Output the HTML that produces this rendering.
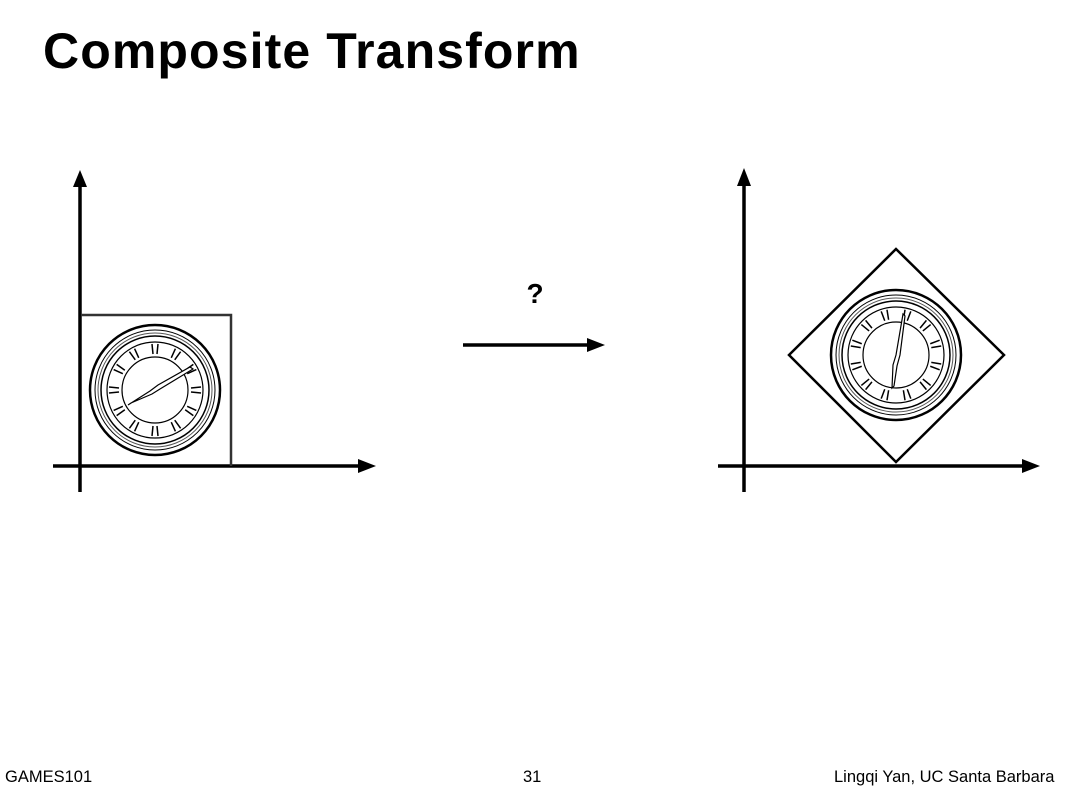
<!DOCTYPE html>
<html><head><meta charset="utf-8"><style>
html,body{margin:0;padding:0;background:#fff;}
body{width:1069px;height:795px;position:relative;overflow:hidden;font-family:"Liberation Sans",sans-serif;}
h1{position:absolute;left:43px;top:22px;margin:0;font-size:50px;font-weight:bold;letter-spacing:1.1px;color:#000;}
.f{position:absolute;top:768px;font-size:16.5px;color:#000;}
</style></head><body>
<h1>Composite Transform</h1>
<svg width="1069" height="795" style="position:absolute;left:0;top:0">
<defs>
<g id="clock">
  <circle r="65" fill="#fff" stroke="#000" stroke-width="2.5"/>
  <circle r="60" fill="none" stroke="#000" stroke-width="1"/>
  <circle r="57" fill="none" stroke="#555" stroke-width="1"/>
  <circle r="54" fill="none" stroke="#000" stroke-width="1.5"/>
  <circle r="48" fill="none" stroke="#000" stroke-width="1.2"/>
  <circle r="33" fill="#fff" stroke="#000" stroke-width="1.2"/>
  <g stroke="#000" stroke-width="1.5">
    <g id="tk"><line x1="-3" y1="-46" x2="-2" y2="-36"/><line x1="3" y1="-46" x2="2" y2="-36"/></g>
    <use href="#tk" transform="rotate(30)"/><use href="#tk" transform="rotate(60)"/><use href="#tk" transform="rotate(90)"/>
    <use href="#tk" transform="rotate(120)"/><use href="#tk" transform="rotate(150)"/><use href="#tk" transform="rotate(180)"/>
    <use href="#tk" transform="rotate(210)"/><use href="#tk" transform="rotate(240)"/><use href="#tk" transform="rotate(270)"/>
    <use href="#tk" transform="rotate(300)"/><use href="#tk" transform="rotate(330)"/>
  </g>
</g>
</defs>
<line x1="80" y1="185" x2="80" y2="492" stroke="#000" stroke-width="3.5"/>
<polygon points="80,170 73,187 87,187" fill="#000"/>
<line x1="53" y1="466" x2="362" y2="466" stroke="#000" stroke-width="3.5"/>
<polygon points="376,466 358,459 358,473" fill="#000"/>
<polyline points="81,315 231,315 231,466" fill="none" stroke="#333" stroke-width="2.5"/>
<use href="#clock" transform="translate(155,390)"/>
<polygon points="128,405 150,391 158,385 190,367 193,369 160,389 152,394 131,403" fill="#fff" stroke="#000" stroke-width="1.2"/>
<text x="535" y="303" font-family="Liberation Sans,sans-serif" font-size="28" font-weight="bold" text-anchor="middle">?</text>
<line x1="463" y1="345" x2="590" y2="345" stroke="#000" stroke-width="3.5"/>
<polygon points="605,345 587,338 587,352" fill="#000"/>
<line x1="744" y1="185" x2="744" y2="492" stroke="#000" stroke-width="3.5"/>
<polygon points="744,168 737,186 751,186" fill="#000"/>
<line x1="718" y1="466" x2="1026" y2="466" stroke="#000" stroke-width="3.5"/>
<polygon points="1040,466 1022,459 1022,473" fill="#000"/>
<polygon points="896,249 1004,355 896,462 789,355" fill="none" stroke="#000" stroke-width="2.5"/>
<use href="#clock" transform="translate(896,355) rotate(45)"/>
<polygon points="892,388 893,365 896,355 903,314 905,316 900,355 897,366 894,386" fill="#fff" stroke="#000" stroke-width="1.2"/>
</svg>
<div class="f" style="left:5px">GAMES101</div>
<div class="f" style="left:523px">31</div>
<div class="f" style="left:834px">Lingqi Yan, UC Santa Barbara</div>
</body></html>
